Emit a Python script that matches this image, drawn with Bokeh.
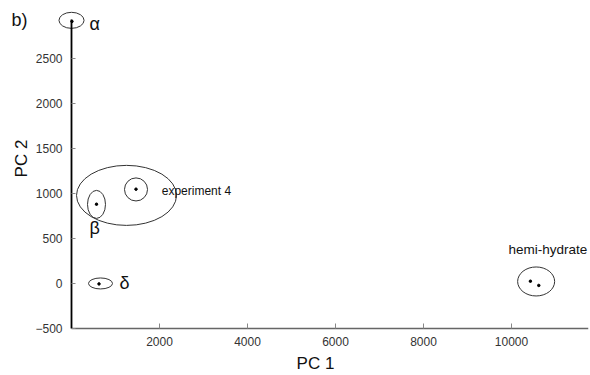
from bokeh.plotting import figure
from bokeh.models import Range1d, Label, FixedTicker, ColumnDataSource
from bokeh.embed import file_html
from bokeh.resources import INLINE
from bokeh.core.properties import value
import math

# data points (PC1, PC2)
pt_x = [10, 568, 1466, 625, 10430, 10620]
pt_y = [2910, 880, 1047, -5, 25, -22]

# confidence ellipses
ell_x = [0, 568, 1466, 1250, 659, 10560]
ell_y = [2922, 878, 1044, 978, 0, 22]
ell_w = [570, 409, 523, 2273, 545, 841]
ell_h = [178, 311, 256, 667, 122, 322]

# group labels
lab_text = ["α", "β", "δ", "experiment 4", "hemi-hydrate"]
lab_x = [410, 410, 1090, 2050, 9930]
lab_y = [2885, 611, 10, 1030, 378]
lab_size = ["18px", "18px", "18px", "12px", "13.5px"]

x_ticks = [2000, 4000, 6000, 8000, 10000]
y_ticks = [-500, 0, 500, 1000, 1500, 2000, 2500]

W, H = 590, 375
FL, FB = 4, 373   # frame left / bottom in pixels
p = figure(width=W, height=H, output_backend="svg", toolbar_location=None,
           x_range=Range1d(-1523, 11750), y_range=Range1d(-1000, 3120),
           min_border_left=FL, min_border_right=2, min_border_top=2, min_border_bottom=H - FB)
p.outline_line_color = None
p.grid.visible = False
p.background_fill_color = "white"
p.border_fill_color = "white"

p.ellipse(x=ell_x, y=ell_y, width=ell_w, height=ell_h,
          fill_color=None, line_color="#333333", line_width=1)
p.scatter(x=pt_x, y=pt_y, size=2.5, color="black")

src = ColumnDataSource(dict(x=lab_x, y=lab_y, t=lab_text, s=lab_size))
p.text(x="x", y="y", text="t", text_font_size="s", source=src,
       text_font=value("Liberation Sans"), text_align="left",
       text_baseline="middle", text_color="#111111")

xa = p.xaxis[0]
xa.ticker = FixedTicker(ticks=x_ticks)
xa.bounds = (0, 11750)
xa.fixed_location = -500
xa.axis_line_color = "#666666"
xa.axis_line_width = 1.5
xa.major_tick_in = 5
xa.major_tick_out = 0
xa.minor_tick_line_color = None
xa.major_tick_line_color = "#888888"
xa.major_label_text_font = "Liberation Sans"
xa.major_label_text_font_size = "12px"
xa.major_label_text_color = "#333333"
xa.major_label_standoff = 9

ya = p.yaxis[0]
ya.ticker = FixedTicker(ticks=y_ticks)
ya.bounds = (-500, 2930)
ya.fixed_location = 0
ya.axis_line_color = "black"
ya.axis_line_width = 1.8
ya.major_tick_in = 4
ya.major_tick_out = 0
ya.minor_tick_line_color = None
ya.major_tick_line_color = "#888888"
ya.major_label_text_font = "Liberation Sans"
ya.major_label_text_font_size = "12px"
ya.major_label_text_color = "#333333"
ya.major_label_standoff = 9

def lab(text, px, py, size="17px", **kw):
    return Label(x=px - FL, y=FB - py, x_units="screen", y_units="screen", text=text,
                 text_font="Liberation Sans", text_font_size=size,
                 text_baseline="middle", text_color="#111111", **kw)

p.add_layout(lab("b)", 11, 19, size="18px", text_align="left"))
p.add_layout(lab("PC 1", 315, 363, text_align="center"))
p.add_layout(lab("PC 2", 21, 158, text_align="center", angle=math.pi / 2))

open("out.html", "w").write(file_html(p, INLINE))
